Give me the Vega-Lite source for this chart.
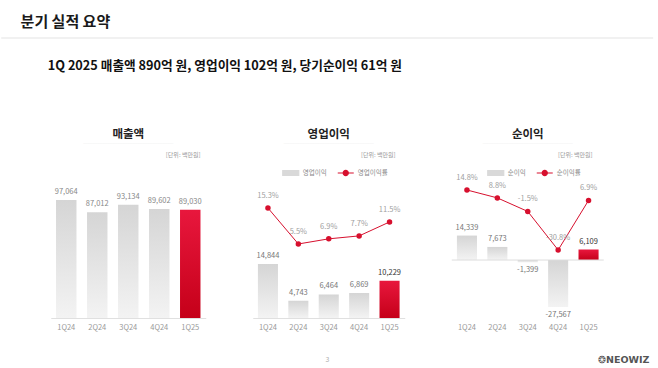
{
  "$schema": "https://vega.github.io/schema/vega-lite/v6.json",
  "background": "white",
  "padding": {"left": 0, "right": 0, "top": 15, "bottom": 0},
  "config": {
    "font": "Noto Sans CJK KR",
    "view": {"stroke": null},
    "locale": {"number": {"decimal": ".", "thousands": ",", "grouping": [3], "currency": ["", ""], "minus": "-"}}
  },
  "datasets": {
    "rev": [
      {"q": "1Q24", "v": 97064}, {"q": "2Q24", "v": 87012}, {"q": "3Q24", "v": 93134}, {"q": "4Q24", "v": 89602}, {"q": "1Q25", "v": 89030}
    ],
    "op": [
      {"q": "1Q24", "v": 14844, "r": 0.153}, {"q": "2Q24", "v": 4743, "r": 0.055}, {"q": "3Q24", "v": 6464, "r": 0.069}, {"q": "4Q24", "v": 6869, "r": 0.077}, {"q": "1Q25", "v": 10229, "r": 0.115}
    ],
    "net": [
      {"q": "1Q24", "v": 14339, "r": 0.148}, {"q": "2Q24", "v": 7673, "r": 0.088}, {"q": "3Q24", "v": -1399, "r": -0.015}, {"q": "4Q24", "v": -27567, "r": -0.308}, {"q": "1Q25", "v": 6109, "r": 0.069}
    ],
    "unit": [{"t": "[단위: 백만원]"}],
    "zero": [{"v": 0}]
  },
  "spacing": 20,
  "center": true,
  "resolve": {"scale": {"color": "independent"}, "legend": {"color": "independent"}},
  "vconcat": [
    {
      "width": 652,
      "height": 1,
      "title": {"text": "분기 실적 요약", "anchor": "start", "dx": 20, "fontSize": 15, "fontWeight": "bold", "color": "#1a1a1a", "offset": 7},
      "data": {"values": [{"v": 0}]},
      "mark": {"type": "rule", "color": "#e3e3e3", "strokeWidth": 1.2},
      "encoding": {"y": {"field": "v", "type": "quantitative", "axis": null, "scale": {"domain": [0, 1], "nice": false}}}
    },
    {
      "title": {"text": "1Q 2025 매출액 890억 원, 영업이익 102억 원, 당기순이익 61억 원", "anchor": "start", "dx": -3, "fontSize": 12.7, "fontWeight": "bold", "color": "#111111", "offset": 56},
      "spacing": 47,
      "bounds": "flush",
      "resolve": {"scale": {"color": "independent"}, "legend": {"color": "independent"}},
      "hconcat": [
        {
          "width": 155,
          "height": 133,
          "title": {"text": "매출액", "fontSize": 11.5, "fontWeight": "bold", "color": "#222222", "anchor": "middle", "offset": 6, "subtitle": "──────────────────", "subtitleColor": "#e4e4e4", "subtitleFontSize": 5, "subtitlePadding": 1},
          "data": {"name": "rev"},
          "layer": [
            {
              "mark": {"type": "bar"},
              "encoding": {
                "x": {"field": "q", "type": "nominal", "sort": null, "scale": {"paddingInner": 0.34, "paddingOuter": 0.17},
                  "axis": {"title": null, "labelAngle": 0, "labelColor": "#999999", "labelFontSize": 7.5, "ticks": false, "domainColor": "#e0e0e0", "labelPadding": 5}},
                "y": {"field": "v", "type": "quantitative", "axis": null, "scale": {"domain": [0, 109400], "nice": false}},
                "fill": {"condition": {"test": "datum.q === '1Q25'", "value": {"gradient": "linear", "x1": 0, "y1": 0, "x2": 0, "y2": 1, "stops": [{"offset": 0, "color": "#e8173d"}, {"offset": 1, "color": "#c50019"}]}},
                  "value": {"gradient": "linear", "x1": 0, "y1": 0, "x2": 0, "y2": 1, "stops": [{"offset": 0, "color": "#d5d5d5"}, {"offset": 1, "color": "#f3f3f3"}]}}
              }
            },
            {
              "mark": {"type": "text", "baseline": "bottom", "dy": -4, "fontSize": 7.5, "color": "#888888"},
              "encoding": {
                "x": {"field": "q", "type": "nominal", "sort": null},
                "y": {"field": "v", "type": "quantitative"},
                "text": {"field": "v", "type": "quantitative", "format": ",d"}
              }
            },
            {
              "data": {"name": "unit"},
              "mark": {"type": "text", "align": "right", "baseline": "middle", "fontSize": 6, "color": "#999999"},
              "encoding": {
                "x": {"datum": "1Q25", "type": "nominal", "bandPosition": 1},
                "y": {"datum": 134000, "type": "quantitative"},
                "text": {"field": "t"}
              }
            }
          ]
        },
        {
          "width": 152,
          "height": 133,
          "title": {"text": "영업이익", "fontSize": 11.5, "fontWeight": "bold", "color": "#222222", "anchor": "middle", "offset": 6, "subtitle": "──────────────────", "subtitleColor": "#e4e4e4", "subtitleFontSize": 5, "subtitlePadding": 1},
          "data": {"name": "op"},
          "layer": [
            {
              "layer": [
                {
                  "mark": {"type": "bar"},
                  "encoding": {
                    "x": {"field": "q", "type": "nominal", "sort": null, "scale": {"paddingInner": 0.34, "paddingOuter": 0.17},
                      "axis": {"title": null, "labelAngle": 0, "labelColor": "#999999", "labelFontSize": 7.5, "ticks": false, "domainColor": "#e0e0e0", "labelPadding": 5}},
                    "y": {"field": "v", "type": "quantitative", "axis": null, "scale": {"domain": [0, 36560], "nice": false}},
                    "fill": {"condition": {"test": "datum.q === '1Q25'", "value": {"gradient": "linear", "x1": 0, "y1": 0, "x2": 0, "y2": 1, "stops": [{"offset": 0, "color": "#e8173d"}, {"offset": 1, "color": "#c50019"}]}},
                      "value": {"gradient": "linear", "x1": 0, "y1": 0, "x2": 0, "y2": 1, "stops": [{"offset": 0, "color": "#d5d5d5"}, {"offset": 1, "color": "#f3f3f3"}]}}
                  }
                },
                {
                  "mark": {"type": "text", "baseline": "bottom", "dy": -4, "fontSize": 7.5},
                  "encoding": {
                    "x": {"field": "q", "type": "nominal", "sort": null},
                    "y": {"field": "v", "type": "quantitative"},
                    "text": {"field": "v", "type": "quantitative", "format": ",d"},
                    "color": {"condition": {"test": "datum.q === '1Q25'", "value": "#333333"}, "value": "#777777"}
                  }
                },
                {
                  "data": {"name": "unit"},
                  "mark": {"type": "text", "align": "right", "baseline": "middle", "fontSize": 6, "color": "#999999"},
                  "encoding": {
                    "x": {"datum": "1Q25", "type": "nominal", "bandPosition": 0.8},
                    "y": {"datum": 44800, "type": "quantitative"},
                    "text": {"field": "t"}
                  }
                }
              ]
            },
            {
              "layer": [
                {
                  "mark": {"type": "line", "strokeWidth": 1},
                  "encoding": {
                    "x": {"field": "q", "type": "nominal", "sort": null},
                    "y": {"field": "r", "type": "quantitative", "axis": null, "scale": {"domain": [-0.1467, 0.2157], "nice": false, "zero": false}},
                    "color": {"datum": "영업이익률", "type": "nominal", "scale": {"domain": ["영업이익", "영업이익률"], "range": ["#d9d9d9", "#d7102e"]},
                      "legend": {"title": null, "orient": "none", "legendX": 29, "legendY": -21, "direction": "horizontal", "labelFontSize": 6.5, "labelColor": "#888888", "symbolSize": 256, "columnPadding": 8, "labelOffset": 3,
                        "encode": {"symbols": {"update": {
                          "shape": {"signal": "datum.value === '영업이익' ? 'M-1,-0.3H1V0.3H-1Z' : 'M-1,0H1M0.32,0A0.32,0.32 0 1,1 -0.32,0A0.32,0.32 0 1,1 0.32,0Z'"},
                          "fill": {"signal": "datum.value === '영업이익' ? '#d9d9d9' : '#d7102e'"},
                          "stroke": {"signal": "datum.value === '영업이익' ? '#d9d9d9' : '#d7102e'"},
                          "strokeWidth": {"value": 1.2}}}}}}
                  }
                },
                {
                  "mark": {"type": "point", "filled": true, "size": 30, "opacity": 1, "color": "#d7102e"},
                  "encoding": {
                    "x": {"field": "q", "type": "nominal", "sort": null},
                    "y": {"field": "r", "type": "quantitative"}
                  }
                },
                {
                  "mark": {"type": "text", "baseline": "middle", "dy": -12, "fontSize": 7.5, "color": "#a0a0a0"},
                  "encoding": {
                    "x": {"field": "q", "type": "nominal", "sort": null},
                    "y": {"field": "r", "type": "quantitative"},
                    "text": {"field": "r", "type": "quantitative", "format": ".1%"}
                  }
                }
              ]
            }
          ],
          "resolve": {"scale": {"y": "independent"}}
        },
        {
          "width": 152,
          "height": 133,
          "title": {"text": "순이익", "fontSize": 11.5, "fontWeight": "bold", "color": "#222222", "anchor": "middle", "offset": 6, "subtitle": "──────────────────", "subtitleColor": "#e4e4e4", "subtitleFontSize": 5, "subtitlePadding": 1},
          "data": {"name": "net"},
          "layer": [
            {
              "layer": [
                {
                  "mark": {"type": "bar"},
                  "encoding": {
                    "x": {"field": "q", "type": "nominal", "sort": null, "scale": {"paddingInner": 0.34, "paddingOuter": 0.17},
                      "axis": {"title": null, "labelAngle": 0, "labelColor": "#999999", "labelFontSize": 7.5, "ticks": false, "domain": false, "labelPadding": 5}},
                    "y": {"field": "v", "type": "quantitative", "axis": null, "scale": {"domain": [-34000, 44000], "nice": false}},
                    "fill": {"condition": {"test": "datum.q === '1Q25'", "value": {"gradient": "linear", "x1": 0, "y1": 0, "x2": 0, "y2": 1, "stops": [{"offset": 0, "color": "#e8173d"}, {"offset": 1, "color": "#c50019"}]}},
                      "value": {"gradient": "linear", "x1": 0, "y1": 0, "x2": 0, "y2": 1, "stops": [{"offset": 0, "color": "#d5d5d5"}, {"offset": 1, "color": "#f3f3f3"}]}}
                  }
                },
                {
                  "data": {"name": "zero"},
                  "mark": {"type": "rule", "color": "#dddddd", "strokeWidth": 1},
                  "encoding": {"y": {"field": "v", "type": "quantitative"}}
                },
                {
                  "transform": [{"filter": "datum.v >= 0"}],
                  "mark": {"type": "text", "baseline": "bottom", "dy": -4, "fontSize": 7.5},
                  "encoding": {
                    "x": {"field": "q", "type": "nominal", "sort": null},
                    "y": {"field": "v", "type": "quantitative"},
                    "text": {"field": "v", "type": "quantitative", "format": ",d"},
                    "color": {"condition": {"test": "datum.q === '1Q25'", "value": "#333333"}, "value": "#777777"}
                  }
                },
                {
                  "transform": [{"filter": "datum.v < 0"}],
                  "mark": {"type": "text", "baseline": "top", "dy": 4, "fontSize": 7.5, "color": "#777777"},
                  "encoding": {
                    "x": {"field": "q", "type": "nominal", "sort": null},
                    "y": {"field": "v", "type": "quantitative"},
                    "text": {"field": "v", "type": "quantitative", "format": ",d"}
                  }
                },
                {
                  "data": {"name": "unit"},
                  "mark": {"type": "text", "align": "right", "baseline": "middle", "fontSize": 6, "color": "#999999"},
                  "encoding": {
                    "x": {"datum": "1Q25", "type": "nominal", "bandPosition": 0.7},
                    "y": {"datum": 61500, "type": "quantitative"},
                    "text": {"field": "t"}
                  }
                }
              ]
            },
            {
              "layer": [
                {
                  "mark": {"type": "line", "strokeWidth": 1},
                  "encoding": {
                    "x": {"field": "q", "type": "nominal", "sort": null},
                    "y": {"field": "r", "type": "quantitative", "axis": null, "scale": {"domain": [-0.825, 0.186], "nice": false, "zero": false}},
                    "color": {"datum": "순이익률", "type": "nominal", "scale": {"domain": ["순이익", "순이익률"], "range": ["#d9d9d9", "#d7102e"]},
                      "legend": {"title": null, "orient": "none", "legendX": 35, "legendY": -21, "direction": "horizontal", "labelFontSize": 6.5, "labelColor": "#888888", "symbolSize": 256, "columnPadding": 8, "labelOffset": 3,
                        "encode": {"symbols": {"update": {
                          "shape": {"signal": "datum.value === '순이익' ? 'M-1,-0.3H1V0.3H-1Z' : 'M-1,0H1M0.32,0A0.32,0.32 0 1,1 -0.32,0A0.32,0.32 0 1,1 0.32,0Z'"},
                          "fill": {"signal": "datum.value === '순이익' ? '#d9d9d9' : '#d7102e'"},
                          "stroke": {"signal": "datum.value === '순이익' ? '#d9d9d9' : '#d7102e'"},
                          "strokeWidth": {"value": 1.2}}}}}}
                  }
                },
                {
                  "mark": {"type": "point", "filled": true, "size": 30, "opacity": 1, "color": "#d7102e"},
                  "encoding": {
                    "x": {"field": "q", "type": "nominal", "sort": null},
                    "y": {"field": "r", "type": "quantitative"}
                  }
                },
                {
                  "mark": {"type": "text", "baseline": "middle", "dy": -12, "fontSize": 7.5, "color": "#a0a0a0"},
                  "encoding": {
                    "x": {"field": "q", "type": "nominal", "sort": null},
                    "y": {"field": "r", "type": "quantitative"},
                    "text": {"field": "r", "type": "quantitative", "format": ".1%"}
                  }
                }
              ]
            }
          ],
          "resolve": {"scale": {"y": "independent"}}
        }
      ]
    },
    {
      "width": 652,
      "height": 18,
      "data": {"values": [{"t": "3", "p": 0.5, "a": "center"}, {"t": "❂NEOWIZ", "p": 1, "a": "right"}]},
      "layer": [
        {
          "transform": [{"filter": "datum.a === 'center'"}],
          "mark": {"type": "text", "baseline": "middle", "align": "center", "fontSize": 7, "color": "#b0b0b0"},
          "encoding": {
            "x": {"field": "p", "type": "quantitative", "axis": null, "scale": {"domain": [0, 1], "nice": false, "zero": false}},
            "text": {"field": "t"}
          }
        },
        {
          "transform": [{"filter": "datum.a === 'right'"}],
          "mark": {"type": "text", "baseline": "middle", "align": "right", "dx": -4, "fontSize": 9.5, "fontWeight": "bold", "color": "#555555", "font": "DejaVu Sans"},
          "encoding": {
            "x": {"field": "p", "type": "quantitative"},
            "text": {"field": "t"}
          }
        }
      ]
    }
  ]
}
